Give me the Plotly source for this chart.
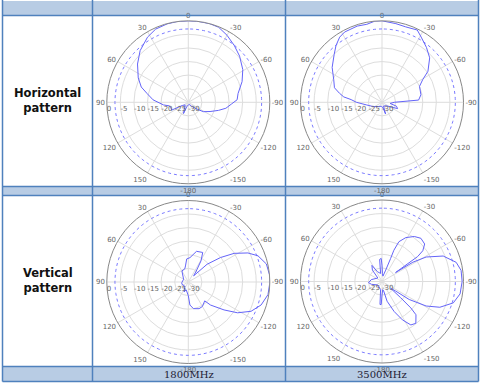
import plotly.graph_objects as go

W, H = 481, 385

# ---------------- data ----------------
angle_ticks = [0, 30, 60, 90, 120, 150, 180, 210, 240, 270, 300, 330]
angle_labels = ["0", "30", "60", "90", "120", "150", "-180", "-150", "-120", "-90", "-60", "-30"]
radial_ticks = [-30, -25, -20, -15, -10, -5, 0]
radial_labels = ["-30", "-25", "-20", "-15", "-10", "-5", "0"]

row_labels = ["Horizontal<br>pattern", "Vertical<br>pattern"]
col_labels = ["1800MHz", "3500MHz"]

h1800_theta = [0, 8, 15, 24, 32, 43, 53, 64, 72, 78, 86, 96, 101, 108, 115, 118, 130, 150, 157, 162, 180,
               -150, -140, -128, -122, -113, -105, -99, -92, -87, -80, -69, -59, -48, -39, -30, -22, -15, -7, 0]
h1800_db = [0, 0, -0.1, -0.5, -1.7, -4.0, -6.6, -9.5, -11.8, -14.5, -17.0, -20.8, -23.0, -23.3, -23.2, -27.5, -28.5, -27, -25.5, -28.5, -29,
            -29, -28, -26, -23.5, -21.3, -18.5, -16, -14, -12, -11.4, -8.8, -6.6, -4.6, -3.1, -1.5, -0.2, 0, 0, 0]

h3500_theta = [0, 5, 11, 18, 28, 33, 39, 45, 55, 65, 73, 78, 82, 85, 90, 100, 117, 140, 170,
               -170, -163, -158, -130, -112, -105, -98, -90, -86.5, -79, -67, -61, -56, -47, -39, -31, -26, -17.5, -10, 0]
h3500_db = [0, 0, -0.75, -0.5, -0.7, -1.4, -3.1, -5.1, -7.6, -10.4, -11.7, -14, -15.8, -18.6, -20.6, -24.3, -26.5, -28, -28.5,
            -28, -25.5, -28.5, -28, -23.8, -24.5, -27, -25.5, -16.5, -15.4, -15, -12.9, -9.6, -6, -4, -2, -0.4, -0.9, -0.6, 0]

v1800_theta = [-4, -15, -26, -31, -36, -41, -46.6, -52.8, -58, -64, -69.4, -77, -84.8, -90.7, -99, -107.5, -115, -122, -128, -136, -139,
               -150, -158, -169, -176, 180, 165, 157, 140, 110, 95, 60, 30, 15, 10, 4, -4]
v1800_db = [-21, -18.3, -17.9, -20.9, -25, -27, -20.5, -15.1, -10.1, -5.6, -2.6, -0.5, 0, 0, -0.3, -1.9, -4.5, -8.6, -13.3, -18.2, -20.8,
            -19.6, -19.4, -20, -21.5, -25, -27, -26, -28, -27.5, -27.6, -28, -25.3, -25, -24, -21.5, -21]

v3500_theta = [0, 2, 6, 10, 25, 32, 40, 50, 80, 95, 105, 130, 170, 175, 178, 180,
               -175, -170, -165.5, -158, -152, -146.4, -141, -134.4, -132.5, -131, -128, -125, -123.5, -119, -114, -106.7, -99, -90,
               -82, -75.5, -67.4, -61, -58, -56.5, -55, -53, -48.7, -42, -35.7, -28.5, -23, -20.8, -20.5, -18, -10, -3, 0]
v3500_db = [-24, -21.5, -21.8, -27, -26, -23, -24.5, -28, -26, -25, -26, -28, -27, -21.5, -21.5, -25,
            -27, -26.5, -22.5, -18.1, -14, -10.8, -10.2, -12.5, -15.6, -20.9, -26, -23.9, -18, -11.4, -6.7, -2.6, -0.9, -0.5,
            -0.6, -1.8, -5.6, -11.4, -16.6, -24, -14, -11.2, -9.1, -8.6, -9.6, -11.6, -14.1, -17.7, -21, -25.6, -28, -27, -24]

ref_level = -3
ref_theta = list(range(0, 361, 3))

patterns = [
    (h1800_theta, h1800_db, "polar"),
    (h3500_theta, h3500_db, "polar2"),
    (v1800_theta, v1800_db, "polar3"),
    (v3500_theta, v3500_db, "polar4"),
]

# ---------------- layout helpers ----------------
def px(x):
    return x / W

def py(y):
    return 1 - y / H

BORDER = "#4f81bd"
FILL = "#b8cce4"
LINE_COLOR = "#6464f8"
DASH_COLOR = "#7b7bff"
TICK_COLOR = "#666666"

fig = go.Figure()

for th, db, sub in patterns:
    fig.add_trace(go.Scatterpolar(theta=ref_theta, r=[ref_level] * len(ref_theta), mode="lines",
                                  line=dict(color=DASH_COLOR, width=1, dash="3px,3px"),
                                  subplot=sub, showlegend=False, hoverinfo="skip"))
    fig.add_trace(go.Scatterpolar(theta=th, r=db, mode="lines",
                                  line=dict(color=LINE_COLOR, width=1),
                                  subplot=sub, showlegend=False))

centers = [(188.3, 102.3), (382.0, 102.3), (188.3, 282.0), (382.0, 281.5)]
R = 81.5

def polar_layout(cx, cy):
    return dict(
        domain=dict(x=[px(cx - R), px(cx + R)], y=[py(cy + R), py(cy - R)]),
        bgcolor="rgba(0,0,0,0)",
        radialaxis=dict(range=[-30, 0], tickvals=radial_ticks, ticktext=radial_labels, angle=180,
                        tickangle=180, side="counterclockwise",
                        showline=False, gridcolor="#dddddd", gridwidth=1, ticks="",
                        tickfont=dict(size=7, color=TICK_COLOR, family="DejaVu Sans")),
        angularaxis=dict(rotation=90, direction="counterclockwise", tickvals=angle_ticks, ticktext=angle_labels,
                         gridcolor="#dddddd", gridwidth=1, linecolor="#888888", linewidth=1, ticks="",
                         tickfont=dict(size=7, color=TICK_COLOR, family="DejaVu Sans")),
    )

shapes = []
# filled bands
for y0, y1 in [(1, 15.5), (186.5, 195.5), (366.5, 381.5)]:
    shapes.append(dict(type="rect", xref="paper", yref="paper", x0=px(2.5), x1=px(478.5), y0=py(y1), y1=py(y0),
                       fillcolor=FILL, line=dict(width=0), layer="below"))
# horizontal borders
for y in [15.5, 186.5, 195.5, 366.5, 381.5]:
    shapes.append(dict(type="line", xref="paper", yref="paper", x0=px(2.5), x1=px(478.5), y0=py(y), y1=py(y),
                       line=dict(color=BORDER, width=1.5)))
# vertical borders
for x in [2.5, 92.5, 285.5, 478.5]:
    shapes.append(dict(type="line", xref="paper", yref="paper", x0=px(x), x1=px(x), y0=py(0), y1=py(381.5),
                       line=dict(color=BORDER, width=1.5)))

annotations = []
for lab, cy in zip(row_labels, [101, 280.5]):
    annotations.append(dict(text="<b>" + lab + "</b>", x=px(47.5), y=py(cy), xref="paper", yref="paper",
                            showarrow=False, xanchor="center", yanchor="middle",
                            font=dict(family="DejaVu Sans", size=11.5, color="#111111")))
for lab, cx in zip(col_labels, [188.5, 382]):
    annotations.append(dict(text=lab, x=px(cx), y=py(374), xref="paper", yref="paper",
                            showarrow=False, xanchor="center", yanchor="middle",
                            font=dict(family="DejaVu Serif", size=10, color="#221a33")))

fig.update_layout(
    width=W, height=H,
    margin=dict(l=0, r=0, t=0, b=0),
    paper_bgcolor="white",
    showlegend=False,
    polar=polar_layout(*centers[0]),
    polar2=polar_layout(*centers[1]),
    polar3=polar_layout(*centers[2]),
    polar4=polar_layout(*centers[3]),
    shapes=shapes,
    annotations=annotations,
)

fig.write_html("out.html", config={"displayModeBar": False},
               post_script="document.body.style.margin='0';document.body.style.overflow='hidden';")
